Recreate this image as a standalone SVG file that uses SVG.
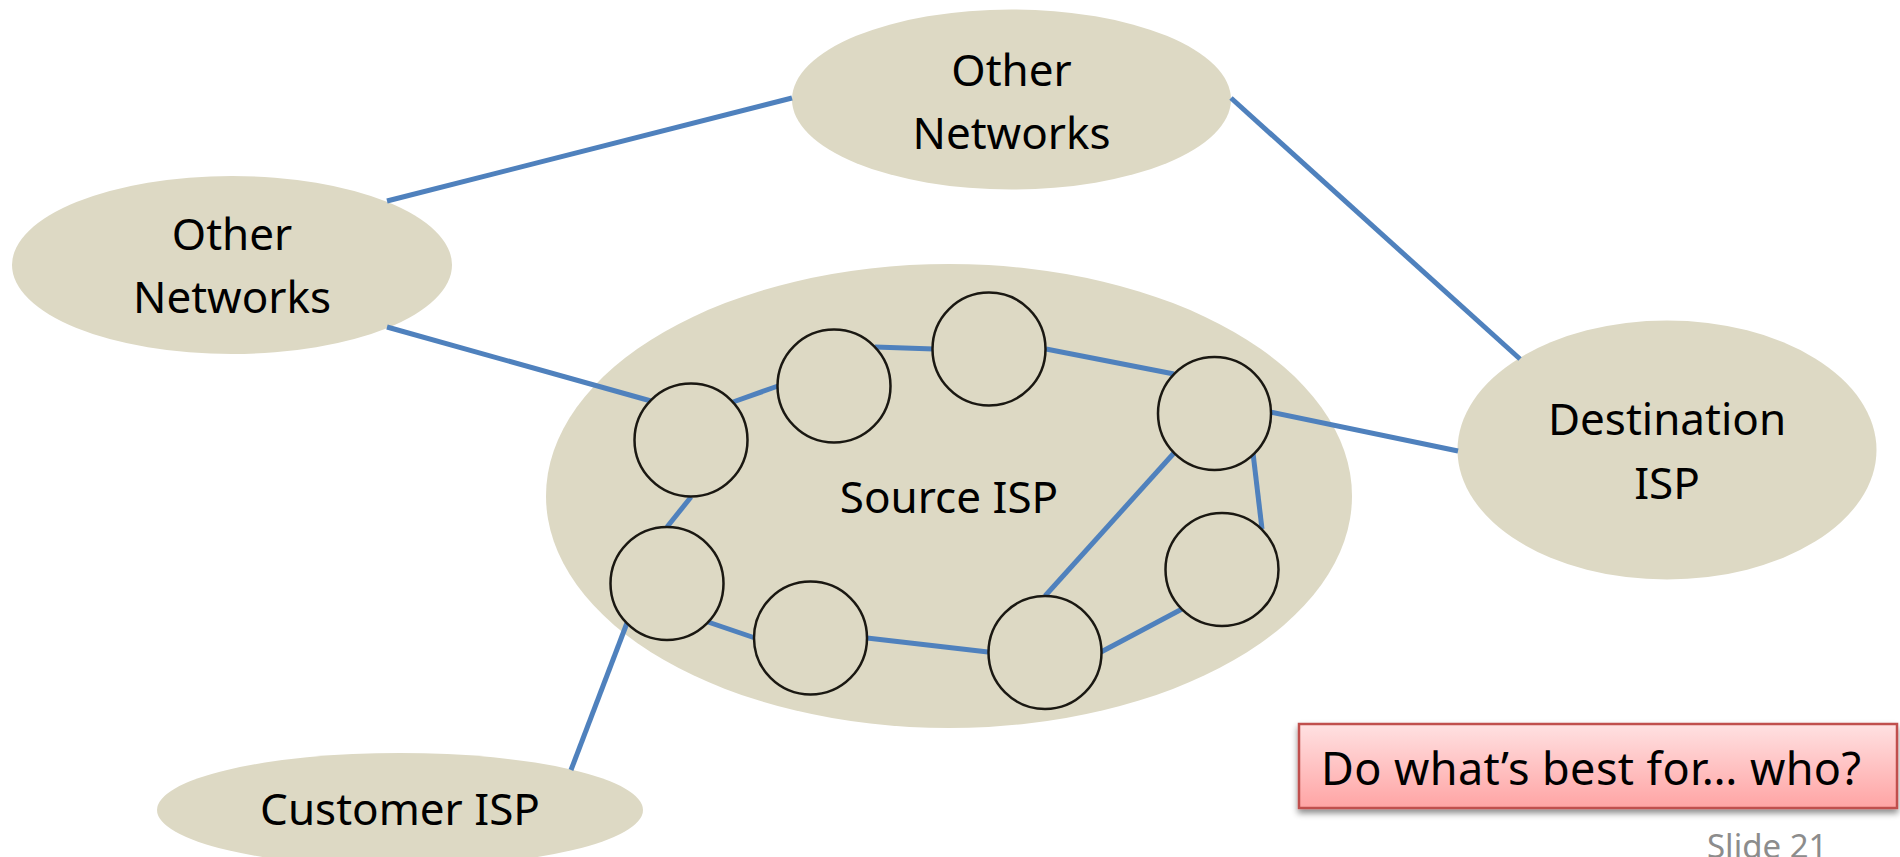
<svg xmlns="http://www.w3.org/2000/svg" width="1900" height="857" viewBox="0 0 1900 857">
  <defs>
    <style>
      .net { fill: #DDD9C4; stroke: none; }
      .router { fill: #DDD9C4; stroke: #1A1812; stroke-width: 2.5; }
      .link { stroke: #4F81BD; stroke-width: 5; stroke-linecap: butt; fill: none; }
      .label { font-family: "Noto Sans", "Open Sans", "Liberation Sans", sans-serif; font-size: 44px; fill: #000; text-anchor: middle; }
      .note { font-family: "Noto Sans", "Open Sans", "Liberation Sans", sans-serif; font-size: 45px; fill: #000; }
      .slide-no { font-family: "Noto Sans", "Open Sans", "Liberation Sans", sans-serif; font-size: 33px; fill: #8C8C8C; }
    </style>
    <linearGradient id="calloutFill" x1="0" y1="0" x2="0" y2="1">
      <stop offset="0" stop-color="#FFE1E2"/>
      <stop offset="1" stop-color="#FFA4A4"/>
    </linearGradient>
    <filter id="calloutShadow" x="-5%" y="-20%" width="110%" height="150%">
      <feDropShadow dx="0" dy="4" stdDeviation="3" flood-color="#000" flood-opacity="0.45"/>
    </filter>
  </defs>

  <!-- Networks (large ovals) -->
  <g id="other-networks-top">
    <ellipse class="net" cx="1011.5" cy="99.5" rx="219.5" ry="90"/>
    <text class="label" x="1011.5" y="86">Other</text>
    <text class="label" x="1011.5" y="149">Networks</text>
  </g>
  <g id="other-networks-left">
    <ellipse class="net" cx="232" cy="265" rx="220" ry="89"/>
    <text class="label" x="232" y="250">Other</text>
    <text class="label" x="232" y="313">Networks</text>
  </g>
  <g id="source-isp">
    <ellipse class="net" cx="949" cy="496" rx="403" ry="232"/>
    <text class="label" x="949" y="513">Source ISP</text>
  </g>
  <g id="destination-isp">
    <ellipse class="net" cx="1667" cy="450" rx="209.5" ry="129.5"/>
    <text class="label" x="1667" y="435">Destination</text>
    <text class="label" x="1667" y="499">ISP</text>
  </g>
  <g id="customer-isp">
    <ellipse class="net" cx="400" cy="810" rx="243" ry="57"/>
    <text class="label" x="400" y="825">Customer ISP</text>
  </g>

  <!-- Links -->
  <g id="connectors">
    <line class="link" x1="387" y1="201" x2="792" y2="98"/>
    <line class="link" x1="1231" y1="98" x2="1520" y2="359"/>
    <line class="link" x1="387" y1="327" x2="651" y2="401"/>
    <line class="link" x1="733" y1="402" x2="778" y2="386"/>
    <line class="link" x1="875" y1="347" x2="934" y2="349"/>
    <line class="link" x1="1046" y1="349" x2="1174" y2="374"/>
    <line class="link" x1="1270" y1="412" x2="1458" y2="451"/>
    <line class="link" x1="1253" y1="453" x2="1262" y2="529"/>
    <line class="link" x1="1174" y1="453" x2="1045" y2="596"/>
    <line class="link" x1="1101" y1="652" x2="1182" y2="609"/>
    <line class="link" x1="867" y1="638" x2="988" y2="652"/>
    <line class="link" x1="708" y1="622" x2="755" y2="638"/>
    <line class="link" x1="691" y1="497" x2="667" y2="527"/>
    <line class="link" x1="627" y1="623" x2="571" y2="770"/>
  </g>

  <!-- Routers inside the source ISP -->
  <g id="router-1"><circle class="router" cx="691" cy="440" r="56.5"/></g>
  <g id="router-2"><circle class="router" cx="834" cy="386" r="56.5"/></g>
  <g id="router-3"><circle class="router" cx="989" cy="349" r="56.5"/></g>
  <g id="router-4"><circle class="router" cx="1214.5" cy="413.5" r="56.5"/></g>
  <g id="router-5"><circle class="router" cx="1222" cy="569.5" r="56.5"/></g>
  <g id="router-6"><circle class="router" cx="1045" cy="652.5" r="56.5"/></g>
  <g id="router-7"><circle class="router" cx="810.5" cy="638" r="56.5"/></g>
  <g id="router-8"><circle class="router" cx="667" cy="583.5" r="56.5"/></g>

  <!-- Question callout -->
  <g id="callout">
    <rect x="1299" y="724" width="598" height="84" fill="url(#calloutFill)" stroke="#C0504D" stroke-width="2.5" filter="url(#calloutShadow)"/>
    <text class="note" x="1321" y="785" textLength="540" lengthAdjust="spacing">Do what’s best for… who?</text>
  </g>

  <g id="slide-number">
    <text class="slide-no" x="1707" y="858">Slide 21</text>
  </g>
</svg>
